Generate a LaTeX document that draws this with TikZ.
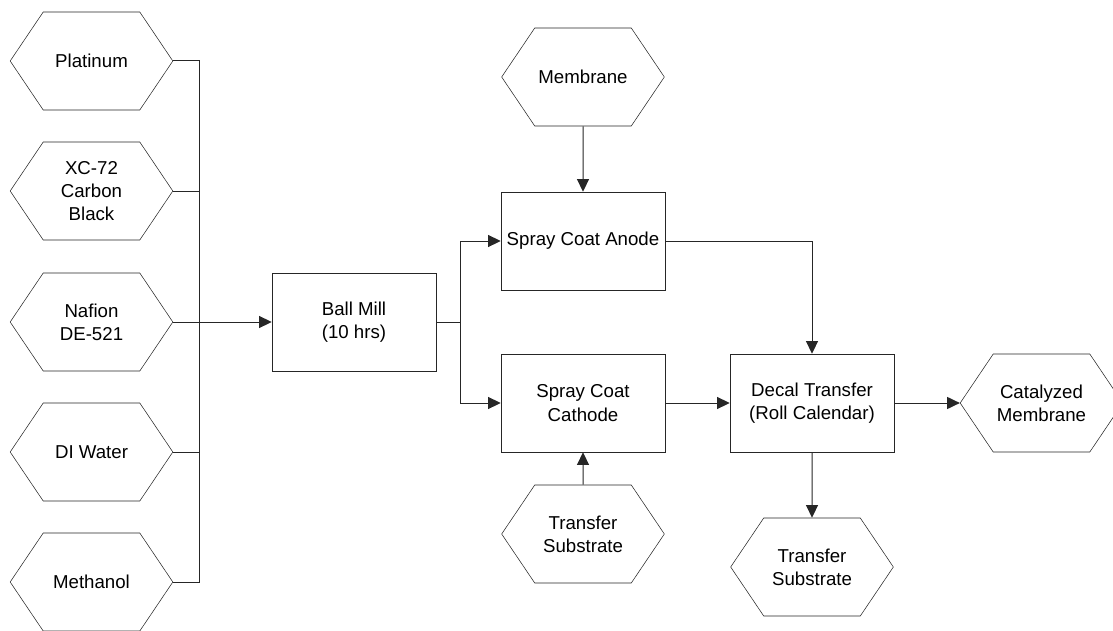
\documentclass[tikz,border=0pt]{standalone}
\usepackage{fontspec}
\setmainfont{Liberation Sans}
\usetikzlibrary{arrows.meta,positioning,shapes.symbols}

\begin{document}
\begin{tikzpicture}[x=0.75pt,y=-0.75pt,
  stock/.style={draw=black!85,signal,signal to=west and east,signal pointer angle=112,
    minimum width=122pt,minimum height=73.5pt,inner sep=0pt,align=center,
    font=\fontsize{14}{17.4}\selectfont},
  stage/.style={draw=black!85,rectangle,minimum width=123pt,minimum height=73.5pt,
    inner sep=0pt,align=center,font=\fontsize{14}{17.4}\selectfont},
  link/.style={line width=0.75pt,draw=black!85},
  arr/.style={link,-{Triangle[length=9.5pt,width=9pt]}},
]
\useasboundingbox (0,0) rectangle (1113,631);
% raw materials
\node[stock] (pt) at (91.5,61) {Platinum};
\node[stock] (xc) at (91.5,191) {XC-72\\Carbon\\Black};
\node[stock] (naf) at (91.5,322) {Nafion\\DE-521};
\node[stock] (water) at (91.5,452) {DI Water};
\node[stock] (meoh) at (91.5,582) {Methanol};
% process steps
\node[stage] (mill) at (354,322) {Ball Mill\\(10 hrs)};
\node[stock] (mem) at (583,77) {Membrane};
\node[stage] (anode) at (583,241) {Spray Coat Anode};
\node[stage] (cathode) at (583,403) {Spray Coat\\Cathode};
\node[stock] (subin) at (583,534) {Transfer\\Substrate};
\node[stage] (decal) at (812,403) {Decal Transfer\\(Roll Calendar)};
\node[stock] (ccm) at (1041.5,403) {Catalyzed\\Membrane};
\node[stock] (subout) at (812,567) {Transfer\\Substrate};
% connectors
\coordinate (bus) at (199,322);
\coordinate (split) at (460,322);
\foreach \n in {pt,xc,water,meoh}
  \draw[link] (\n.east) -| (bus);
\draw[arr] (naf.east) -- (mill.west);
\draw[link] (mill.east) -- (split);
\draw[arr] (split) |- (anode.west);
\draw[arr] (split) |- (cathode.west);
\draw[arr] (mem) -- (anode);
\draw[arr] (subin) -- (cathode);
\draw[arr] (anode.east) -| (decal.north);
\draw[arr] (cathode) -- (decal);
\draw[arr] (decal) -- (ccm.west);
\draw[arr] (decal) -- (subout);
\end{tikzpicture}
\end{document}
